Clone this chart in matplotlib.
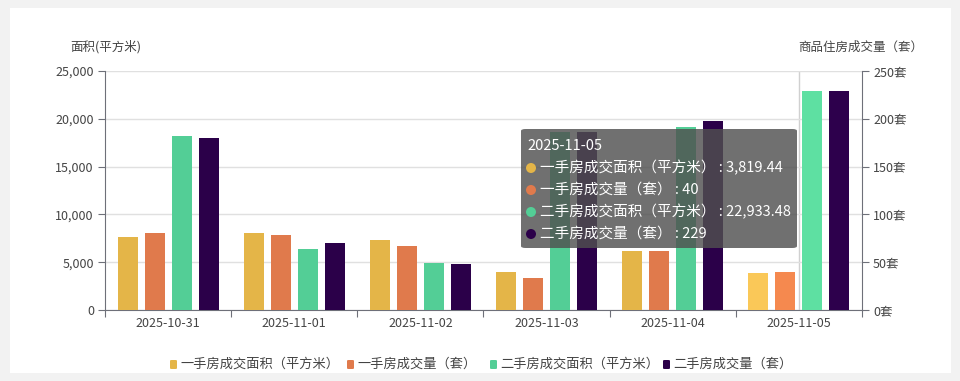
import numpy as np
import matplotlib.pyplot as plt
from matplotlib.patches import FancyBboxPatch, Rectangle, Ellipse
from matplotlib.ticker import FuncFormatter

plt.rcParams['font.family'] = ['Noto Sans CJK SC', 'DejaVu Sans']

dates = ['2025-10-31', '2025-11-01', '2025-11-02', '2025-11-03', '2025-11-04', '2025-11-05']
new_area = [7600, 8050, 7320, 3940, 6140, 3819.44]      # 一手房成交面积（平方米）
new_count = [81, 78, 67, 33, 62, 40]                    # 一手房成交量（套）
used_area = [18200, 6380, 4880, 18590, 19170, 22933.48]  # 二手房成交面积（平方米）
used_count = [180, 70, 48, 186, 198, 229]               # 二手房成交量（套）

names = ['一手房成交面积（平方米）', '一手房成交量（套）', '二手房成交面积（平方米）', '二手房成交量（套）']
colors = ['#E4B548', '#E07A4C', '#53CE96', '#2B0049']
hi_colors = ['#FAC858', '#F5894F', '#5EE0A2', '#2D004C']
hi_idx = 5

W, H = 960, 381
fig = plt.figure(figsize=(W / 100, H / 100), dpi=100)
fig.patch.set_facecolor('#F2F2F2')


def fx(px):
    return px / W


def fy(py):
    return 1 - py / H


# white card
fig.patches.append(Rectangle((fx(10), fy(373)), fx(941), (373 - 8) / H,
                             transform=fig.transFigure, facecolor='white',
                             edgecolor='none', zorder=-1))

L, R, T, B = 105, 862, 71, 310
ax = fig.add_axes([fx(L), fy(B), (R - L) / W, (B - T) / H])
ax.set_facecolor('none')
ax2 = ax.twinx()

x = np.arange(len(dates))
bw = 20 / ((R - L) / 6)
step = 27 / ((R - L) / 6)
offs = [-1.5 * step, -0.5 * step, 0.5 * step, 1.5 * step]

series = [(ax, new_area), (ax2, new_count), (ax, used_area), (ax2, used_count)]
for i, (a, vals) in enumerate(series):
    cols = [hi_colors[i] if j == hi_idx else colors[i] for j in range(len(vals))]
    a.bar(x + offs[i], vals, width=bw, color=cols, zorder=3)

ax.set_xlim(-0.5, 5.5)
ax.set_ylim(0, 25000)
ax2.set_ylim(0, 250)
ax.set_yticks(np.arange(0, 25001, 5000))
ax2.set_yticks(np.arange(0, 251, 50))
ax.yaxis.set_major_formatter(FuncFormatter(lambda v, p: f'{int(v):,}'))
ax2.yaxis.set_major_formatter(FuncFormatter(lambda v, p: f'{int(v)}套'))

ax.grid(axis='y', color='#E0E0E0', linewidth=1, zorder=0)
ax.axvline(hi_idx, color='#D0D0D0', linewidth=1, zorder=1)

axis_col = '#6E7079'
ax.spines['top'].set_visible(False)
ax2.spines['top'].set_visible(False)
ax.spines['right'].set_visible(False)
ax2.spines['left'].set_visible(False)
ax2.spines['bottom'].set_visible(False)
ax.spines['left'].set_color(axis_col)
ax.spines['bottom'].set_color(axis_col)
ax2.spines['right'].set_color(axis_col)

ax.set_xticks(np.arange(-0.5, 6, 1))
ax.set_xticklabels([])
ax.set_xticks(x, minor=True)
ax.set_xticklabels(dates, minor=True)
ax.tick_params(axis='x', which='major', length=5, color=axis_col)
ax.tick_params(axis='x', which='minor', length=0, pad=5, labelsize=9, labelcolor='#444444')
ax.tick_params(axis='y', length=5, color=axis_col, labelsize=9, labelcolor='#444444', pad=3)
ax2.tick_params(axis='y', length=5, color=axis_col, labelsize=9, labelcolor='#444444', pad=3)

fig.text(fx(70), fy(47), '面积(平方米)', fontsize=9, color='#444444', va='center', ha='left')
fig.text(fx(923), fy(47), '商品住房成交量（套）', fontsize=9, color='#444444', va='center', ha='right')

# legend
leg_icon = [170, 347, 490, 663]
leg_text = [180, 357, 500, 673]
for i, name in enumerate(names):
    fig.patches.append(FancyBboxPatch((fx(leg_icon[i]), fy(369)), fx(7), 9 / H,
                                      boxstyle='round,pad=0,rounding_size=0.002',
                                      transform=fig.transFigure, facecolor=colors[i],
                                      edgecolor='none'))
    fig.text(fx(leg_text[i]), fy(364), name, fontsize=9.5, color='#444444', va='center', ha='left')

# tooltip
fig.patches.append(FancyBboxPatch((fx(521), fy(248)), fx(276), (248 - 129) / H,
                                  boxstyle='round,pad=0,rounding_size=0.005',
                                  transform=fig.transFigure, facecolor='#505050',
                                  alpha=0.82, edgecolor='none', zorder=5))
fig.text(fx(527), fy(146), dates[hi_idx], fontsize=10.5, color='white', va='center', ha='left', zorder=6)
tip_vals = [f'{new_area[hi_idx]:,.2f}', f'{new_count[hi_idx]}',
            f'{used_area[hi_idx]:,.2f}', f'{used_count[hi_idx]}']
for i, name in enumerate(names):
    yy = 168 + i * 22
    fig.patches.append(Ellipse((fx(531), fy(yy)), 10 / W, 10 / H, transform=fig.transFigure,
                               facecolor=colors[i], edgecolor='none', zorder=6))
    fig.text(fx(540), fy(yy), f'{name} : {tip_vals[i]}', fontsize=10.5, color='white',
             va='center', ha='left', zorder=6)

fig.savefig('out.png', dpi=100, facecolor=fig.get_facecolor())
